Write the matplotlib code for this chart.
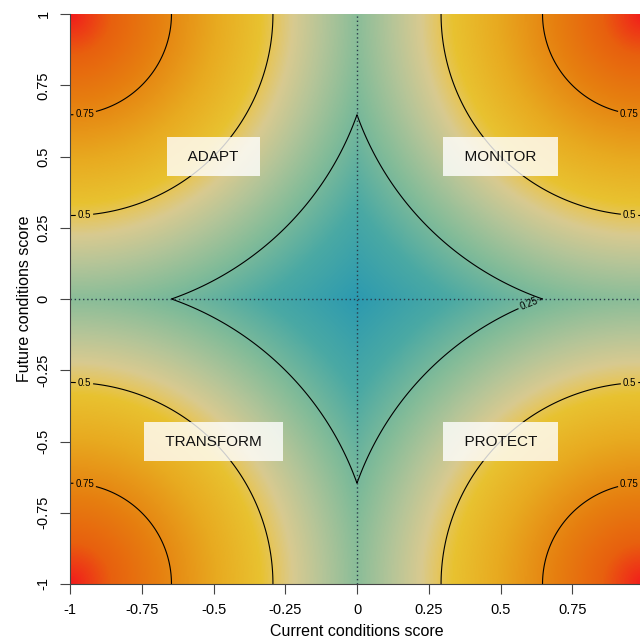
import numpy as np
import matplotlib
matplotlib.use("Agg")
import matplotlib.pyplot as plt
from matplotlib.colors import LinearSegmentedColormap

plt.rcParams['font.family'] = ['Liberation Sans', 'DejaVu Sans']

# grid of current / future condition scores
current = np.linspace(-1, 1, 501)
future = np.linspace(-1, 1, 501)
levels = [0.25, 0.5, 0.75]
ticks = [-1, -0.75, -0.5, -0.25, 0, 0.25, 0.5, 0.75, 1]
xtick_labels = ['-1', '-0.75', '-0.5', '-0.25', '0', '0.25', '0.5', '0.75', '']
ytick_labels = ['-1', '-0.75', '-0.5', '-0.25', '0', '0.25', '0.5', '0.75', '1']
quad_names = ['ADAPT', 'MONITOR', 'TRANSFORM', 'PROTECT']
quad_x = [-0.5, 0.5, -0.5, 0.5]
quad_y = [0.5, 0.5, -0.5, -0.5]

# score = closeness to the nearest corner
X, Y = np.meshgrid(current, future)
score = 1 - np.sqrt((1 - np.abs(X)) ** 2 + (1 - np.abs(Y)) ** 2) / np.sqrt(2)

cmap = LinearSegmentedColormap.from_list('risk', [
    (0.0, '#2c9ab0'),
    (0.15, '#4aa9a4'),
    (0.28, '#84bc98'),
    (0.38, '#b6c598'),
    (0.45, '#d8ca90'),
    (0.49, '#e4c662'),
    (0.53, '#e8c230'),
    (0.64, '#e8aa20'),
    (0.78, '#e68010'),
    (0.9, '#e8600e'),
    (1.0, '#f21c1c'),
])

fig = plt.figure(figsize=(6.4, 6.44), dpi=100)
ax = fig.add_axes([70 / 640, 60 / 644, 574 / 640, 570 / 644])

ax.imshow(score, extent=[-1, 1, -1, 1], origin='lower', cmap=cmap,
          vmin=0, vmax=1, interpolation='bilinear', aspect='auto')
cs = ax.contour(X, Y, score, levels=levels, colors='black', linewidths=0.8)
lab_pos = [(-0.95, 0.66), (-0.95, 0.30), (-0.95, -0.66), (-0.95, -0.30),
           (0.95, 0.66), (0.95, 0.30), (0.95, -0.66), (0.95, -0.30),
           (0.6, -0.02)]
txts = ax.clabel(cs, levels, inline=True, fontsize=7, fmt='%g', manual=lab_pos,
                 inline_spacing=2)
for t in txts:
    if t.get_text() != '0.25':
        t.set_rotation(0)

ax.axvline(0, color='#2b3a4a', linestyle=(0, (1, 2)), linewidth=1)
ax.axhline(0, color='#2b3a4a', linestyle=(0, (1, 2)), linewidth=1)

for name, qx, qy in zip(quad_names, quad_x, quad_y):
    ax.text(qx, qy, '  ' + name + '  ', ha='center', va='center', fontsize=11,
            color='#111111',
            bbox=dict(boxstyle='square,pad=0.85', fc='white', ec='none', alpha=0.8))

ax.set_xlim(-1, 1)
ax.set_ylim(-1, 1)
ax.set_xticks(ticks)
ax.set_xticklabels(xtick_labels)
ax.set_yticks(ticks)
ax.set_yticklabels(ytick_labels, rotation=90, va='center')
ax.tick_params(direction='out', length=7, width=0.8, labelsize=10.5,
               color='#444444', pad=7)
for side in ['top', 'right']:
    ax.spines[side].set_visible(False)
for side in ['left', 'bottom']:
    ax.spines[side].set_color('#444444')
    ax.spines[side].set_linewidth(0.8)

ax.set_xlabel('Current conditions score', fontsize=11.5, labelpad=5)
ax.set_ylabel('Future conditions score', fontsize=11.5, labelpad=3)

fig.savefig('out.png', dpi=100)
